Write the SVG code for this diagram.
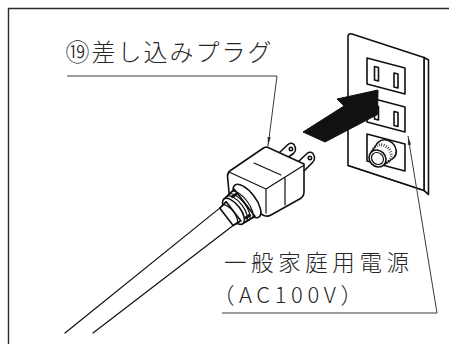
<svg xmlns="http://www.w3.org/2000/svg" width="449" height="344" viewBox="0 0 449 344">
  <defs>
    <style>
      .frame{fill:none;stroke:#2b2b2b;stroke-width:1.4}
      .ink{fill:#fff;stroke:#111;stroke-width:1.6;stroke-linejoin:round;stroke-linecap:round}
      .line{fill:none;stroke:#111;stroke-width:1.2;stroke-linecap:round;stroke-linejoin:round}
      .solid{fill:#111;stroke:#111;stroke-width:1;stroke-linejoin:round}
      .lead{fill:none;stroke:#3a3a3a;stroke-width:1}
      .lbl{font-family:"Noto Sans CJK JP","Noto Sans",sans-serif;font-size:24px;font-weight:300;fill:#262626}
    </style>
    <marker id="tip" markerWidth="9" markerHeight="5" refX="9" refY="2.5" orient="auto" markerUnits="userSpaceOnUse">
      <path d="M0,0.9 L9,2.5 L0,4.1 Z" fill="#333"/>
    </marker>
  </defs>

  <rect width="449" height="344" fill="#fff"/>
  <path class="frame" d="M8.5,344 V8.5 H449"/>

  <!-- wall outlet plate -->
  <g id="outlet">
    <path class="ink" d="M424,57.5 L428.5,60 L428.5,194.5 L424,190.5 Z" stroke-width="1.8"/>
    <path class="ink" d="M348,37 Q348,33 352,34 L424,57.5 L424,190.5 L348,165.5 Z" stroke-width="2.2"/>
    <path class="line" d="M348,165.5 L424,190.5 L428.5,194.5" stroke-width="3"/>
    <!-- upper socket -->
    <path class="ink" d="M367,58 L405,68 L405,94 L367,84 Z" stroke-width="1.5"/>
    <path class="ink" d="M374.5,66.5 L378.5,67.5 L378.5,81 L374.5,80 Z" stroke-width="1.3"/>
    <path class="ink" d="M394,73 L398,74 L398,88 L394,87 Z" stroke-width="1.3"/>
    <!-- lower socket -->
    <path class="ink" d="M367,97 L405,107 L405,132 L367,122 Z" stroke-width="1.5"/>
    <path class="ink" d="M374.5,105.5 L378.5,106.5 L378.5,120 L374.5,119 Z" stroke-width="1.3"/>
    <path class="ink" d="M394,111.5 L398,112.5 L398,126.5 L394,125.5 Z" stroke-width="1.3"/>
    <!-- switch panel with knob -->
    <path class="ink" d="M367,134 L405,144 L405,171 L367,161 Z" stroke-width="1.5"/>
    <ellipse class="ink" cx="386" cy="150" rx="11" ry="9.5" transform="rotate(45 386 150)"/>
    <polygon points="378.2,142.2 393.8,157.8 383.9,164.9 371.1,152.1" fill="#fff"/>
    <ellipse cx="382" cy="154" rx="10" ry="8.6" transform="rotate(45 382 154)" fill="none" stroke="#222" stroke-width="3" stroke-dasharray="0.8 1.6"/>
    <path class="line" d="M378.2,142.2 L371.1,152.1 M393.8,157.8 L383.9,164.9"/>
    <ellipse class="ink" cx="377.5" cy="158.5" rx="9" ry="8" transform="rotate(45 377.5 158.5)"/>
    <ellipse class="line" cx="377.5" cy="158.5" rx="6.4" ry="5.6" transform="rotate(45 377.5 158.5)"/>
  </g>

  <!-- insertion arrow -->
  <g id="insert-arrow">
    <polygon class="solid" points="303,132 344,106 337,99 378,90 377.5,114.5 325,142"/>
  </g>

  <!-- plug with cord -->
  <g id="plug">
    <!-- blades -->
    <path class="ink" d="M279,153 L288,144.5 Q291,142 294,144.5 L295.5,148 Q296,151 293.5,153.5 L287,158 Z" stroke-width="1.4"/>
    <circle class="ink" cx="291" cy="149" r="1.7" stroke-width="1.1"/>
    <path class="ink" d="M298,162 L307,153.5 Q310,151 313,153.5 L314.5,157 Q315,160 312.5,162.5 L304,171 Z" stroke-width="1.4"/>
    <circle class="ink" cx="310" cy="158" r="1.7" stroke-width="1.1"/>
    <!-- body -->
    <path class="ink" d="M267,147 L304,164 L304,192 Q304,196 300.5,198.5 L271,215 Q267.5,217 264,215.5 L229.5,198 L227.5,176 Q227.5,172.5 230.5,170.5 L263.5,148 Q265,147 267,147 Z"/>
    <path class="line" d="M229,172 L266,189 L303.5,165.5 M266,189 L266,213 M285,178 L285,205 M254,163 L281,175"/>
    <!-- strain relief boot: collar -->
    <ellipse class="ink" cx="247" cy="201" rx="20" ry="8.5" transform="rotate(52.6 247 201)"/>
    <!-- ribbed sleeve -->
    <path class="ink" d="M234.3,189.3 L224.1,199 L242.9,223.6 L254.9,216.3 Z" stroke="none"/>
    <path class="line" d="M234.3,189.3 L224.1,199 M242.9,223.6 L254.9,216.3" stroke-width="1.5"/>
    <path class="line" d="M231.6,191.7 A16.8,7 52.6 0 1 252,218.3 M229.2,194.2 A16.3,7 52.6 0 1 249,220 M226.6,196.6 A15.9,7 52.6 0 1 246,221.8"/>
    <path class="solid" d="M236,193 L231,196.5 L232.5,198 L237.3,194.6 Z M249.5,214 L244.5,217.6 L246,219 L250.8,215.6 Z" stroke-width="0.6"/>
    <ellipse class="ink" cx="233.5" cy="211.3" rx="15.5" ry="7" transform="rotate(52.6 233.5 211.3)" stroke-width="1.5"/>
    <!-- neck -->
    <path class="ink" d="M226.2,201.8 L219.7,208.1 L233.1,225.5 L240.8,220.8 Z" stroke="none"/>
    <path class="line" d="M226.2,201.8 L219.7,208.1 M233.1,225.5 L240.8,220.8" stroke-width="1.5"/>
    <path class="line" d="M222.3,205.5 A11.5,5 52.6 0 1 236.6,223.8"/>
    <!-- cord -->
    <path class="line" d="M219.7,208.1 L65,333 M233.1,225.5 L93,333" stroke-width="1.8"/>
  </g>

  <!-- leader lines -->
  <g id="connectors">
    <path class="lead" d="M67,76 H277 L268,146" marker-end="url(#tip)"/>
    <path class="lead" d="M222,313 H437 L408,136" marker-end="url(#tip)"/>
  </g>

  <g id="label-plug">
    <text class="lbl" x="65.5" y="61" textLength="206" lengthAdjust="spacing">⑲差し込みプラグ</text>
  </g>
  <g id="label-power">
    <text class="lbl" x="224" y="270.5" style="font-size:22.5px" textLength="185" lengthAdjust="spacing">一般家庭用電源</text>
    <text class="lbl" x="212.5" y="303" style="font-size:22px" textLength="150" lengthAdjust="spacing">（AC100V）</text>
  </g>
</svg>
